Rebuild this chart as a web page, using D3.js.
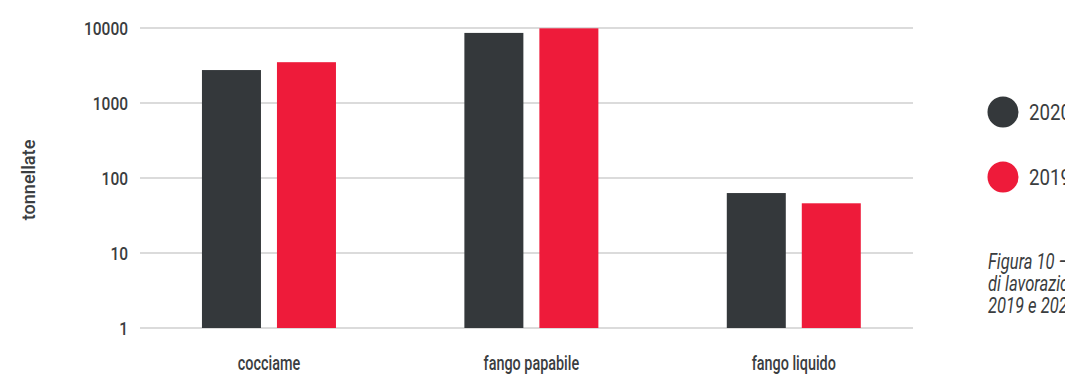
<!DOCTYPE html>
<html>
<head>
<meta charset="utf-8">
<script src="https://cdn.jsdelivr.net/npm/d3@7"></script>
<style>
  html, body { margin: 0; padding: 0; background: #fff; overflow: hidden; }
  svg { display: block; }
  text { font-family: Roboto, "Noto Sans", sans-serif; fill: #3a3d40; }
</style>
</head>
<body>
<svg id="chart" width="1065" height="374"></svg>
<script>
// Waste by type, tonnes (log scale)
const categories = ["cocciame", "fango papabile", "fango liquido"];
const seriesNames = ["2020", "2019"];
const values2020 = [2750, 8600, 63];
const values2019 = [3500, 9900, 46];
const tickValues = [1, 10, 100, 1000, 10000];
const tickLabels = ["1", "10", "100", "1000", "10000"];
const colors = ["#34383b", "#ee1b3a"];
const captionLines = ["Figura 10 – Rifiuti prodotti", "di lavorazione negli anni", "2019 e 2020"];

const svg = d3.select("#chart");
const plot = { left: 140, right: 913, top: 28, bottom: 328 };

// Narrow a text horizontally around its anchor point
function squeeze(sel, k) {
  sel.each(function () {
    const t = d3.select(this);
    const x0 = +t.attr("x") || 0;
    t.attr("x", x0 / k).attr("transform", `scale(${k},1)`);
  });
}

const y = d3.scaleLog().domain([1, 10000]).range([plot.bottom, plot.top]);
const x = d3.scaleBand().domain(categories).range([137.75, 925]).paddingInner(0).paddingOuter(0);
const xSub = d3.scaleBand().domain(seriesNames).range([-67, 67]).paddingInner(0.2133);

// Gridlines
svg.append("g")
  .selectAll("line")
  .data(tickValues)
  .join("line")
  .attr("x1", plot.left).attr("x2", plot.right)
  .attr("y1", d => y(d)).attr("y2", d => y(d))
  .attr("stroke", "#cfcfcf").attr("stroke-width", 1.5);

// Y axis labels
const yAxis = d3.axisLeft(y).tickValues(tickValues).tickFormat((d, i) => tickLabels[i]).tickSize(0).tickPadding(0);
const gy = svg.append("g").attr("transform", "translate(128,0)").call(yAxis);
gy.select(".domain").remove();
gy.selectAll("text")
  .attr("font-size", 19).attr("font-weight", 500)
  .attr("font-family", "Roboto, sans-serif")
  .attr("fill", "#3a3d40").attr("dy", "0.35em")
  .call(squeeze, 0.815);

// Y title
svg.append("g")
  .attr("transform", "translate(29,180) rotate(-90)")
  .append("text")
  .attr("text-anchor", "middle")
  .attr("dy", "0.35em")
  .attr("font-size", 18.5).attr("font-weight", 500)
  .text("tonnellate")
  .call(squeeze, 0.98);

// Bars
const rows = categories.map((c, i) => ({ cat: c, vals: [values2020[i], values2019[i]] }));
const groups = svg.append("g").selectAll("g")
  .data(rows).join("g")
  .attr("transform", d => `translate(${x(d.cat) + x.bandwidth() / 2},0)`);
groups.selectAll("rect")
  .data(d => d.vals.map((v, j) => ({ name: seriesNames[j], v, j })))
  .join("rect")
  .attr("x", d => xSub(d.name))
  .attr("width", xSub.bandwidth())
  .attr("y", d => y(d.v))
  .attr("height", d => plot.bottom - y(d.v))
  .attr("fill", d => colors[d.j]);

// X axis labels
const xAxis = d3.axisBottom(x).tickSize(0).tickPadding(0);
const gx = svg.append("g").attr("transform", "translate(0,363)").call(xAxis);
gx.select(".domain").remove();
gx.selectAll("text")
  .attr("font-size", 20).attr("font-weight", 500)
  .attr("font-family", "Roboto, sans-serif")
  .attr("fill", "#3a3d40").attr("dy", "0.35em")
  .call(squeeze, 0.72);

// Legend
const legend = svg.append("g").selectAll("g")
  .data(seriesNames).join("g")
  .attr("transform", (d, i) => `translate(1003,${112 + i * 65})`);
legend.append("circle").attr("r", 15.5).attr("fill", (d, i) => colors[i]);
legend.append("g").attr("transform", "translate(26,0)")
  .append("text")
  .attr("dy", "0.35em")
  .attr("font-size", 22.5)
  .text(d => d)
  .call(squeeze, 0.83);

// Caption
svg.append("g").selectAll("g")
  .data(captionLines).join("g")
  .attr("transform", (d, i) => `translate(988,${269 + i * 22})`)
  .append("text")
  .attr("font-size", 21.5).attr("font-style", "italic")
  .text(d => d)
  .call(squeeze, 0.77);
</script>
</body>
</html>
